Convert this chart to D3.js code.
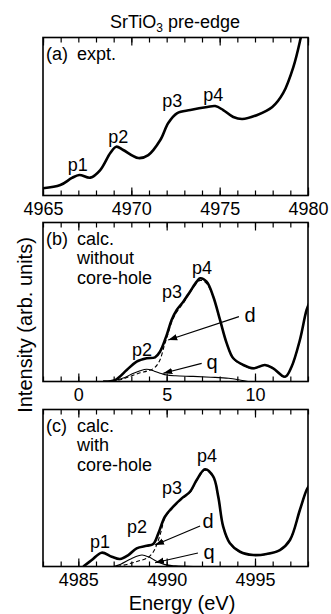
<!DOCTYPE html>
<html><head><meta charset="utf-8">
<script src="https://cdn.jsdelivr.net/npm/d3@7"></script>
<style>
html,body{margin:0;padding:0;background:#fff;}
svg{display:block;font-family:"Liberation Sans",Arial,Helvetica,sans-serif;}
</style></head>
<body>
<script>
// ---------- DATA ----------
const title = "SrTiO";
const yAxisTitle = "Intensity (arb. units)";
const xAxisTitle = "Energy (eV)";

// Panel (a) experiment
const aEnergy = [4965.0,4965.98,4966.64,4967.05,4967.68,4968.24,4968.81,4969.15,4969.54,4970.39,4970.96,4971.64,4972.09,4972.6,4973.34,4974.3,4974.75,4975.2,4975.77,4976.28,4977.13,4977.98,4978.6,4979.17,4979.56,4979.8];
const aExpt   = [4.6,6.6,11.1,13.0,11.3,16.1,26.9,30.9,28.8,23.7,25.6,35.1,45.9,52.2,54.1,56.0,56.6,54.1,49.7,48.4,51.0,56.0,64.9,81.3,98.4,112];
const aMajorTicks = [4965,4970,4975,4980];
const aTickLabels = ["4965","4970","4975","4980"];
const aPeakNames = ["p1","p2","p3","p4"];
const aPeakE = [4966.97,4969.26,4972.32,4974.64];
const aPeakV = [19.3,37.0,59.8,63.6];

// Panel (b) calc. without core-hole
const bEnergy = [1.4,2.07,2.74,3.3,3.87,4.34,4.62,5.0,5.28,5.57,5.94,6.32,6.7,6.89,7.26,7.64,8.02,8.4,8.77,9.34,9.9,10.56,11.03,11.7,12.07,12.54,12.92,13.1];
const bTotal  = [0,0.9,7.2,12.5,14.6,15.2,18.7,29.2,38.7,45.0,50.2,56.5,62.8,64.9,62.8,53.3,38.7,24.0,14.6,10.4,8.3,10.4,8.3,3.0,9.3,26.1,45.0,50];
const bDEnergy = [1.9,2.5,3.0,3.5,3.9,4.3,4.6,4.85,5.05,5.3,5.6,5.95,6.3,6.7,6.9,7.25,7.65,8.02,8.4,8.77,9.34,9.9,10.56,11.03,11.7,12.07,12.54,12.92,13.1];
const bD       = [0,1.5,3.5,5.5,6.6,8.5,13,22,29,37.8,44.2,49.4,55.6,61.8,63.6,61.8,52.8,38.5,23.8,14.4,10.2,8.1,10.2,8.1,2.8,9.1,25.9,44.8,49.8];
const bQEnergy = [1.8,2.5,3.0,3.5,3.87,4.3,4.7,5.0,5.5,6.5,7.5,8.5,9.2,9.6];
const bQ       = [0,2,4.5,6.8,7.7,6.5,5.0,4.1,3.6,3.2,2.7,2.0,0.8,0];
const bMajorTicks = [0,5,10];
const bTickLabels = ["0","5","10"];
const bPeakNames = ["p2","p3","p4"];
const bPeakE = [3.6,5.3,7.0];
const bPeakV = [19.8,56.3,71.4];

// Panel (c) calc. with core-hole
const cEnergy = [4985.28,4985.76,4986.32,4986.89,4987.36,4987.83,4988.3,4988.87,4989.24,4989.53,4989.9,4990.37,4990.85,4991.32,4991.7,4992.17,4992.64,4992.92,4993.2,4993.58,4994.15,4994.9,4995.66,4996.41,4996.98,4997.54,4997.92,4998.1];
const cTotal  = [0,4.1,8.8,6.2,4.8,7.3,11.6,13.2,14.3,21.1,31.7,38.1,43.4,47.6,55.1,61.9,57.2,44.5,25.4,14.8,9.4,7.3,8.0,10.5,16.9,36.0,48.7,52];
const cDEnergy = [4987.2,4987.8,4988.4,4988.9,4989.25,4989.5,4989.7,4989.9,4990.37,4990.85,4991.32,4991.7,4992.17,4992.64,4992.92,4993.2,4993.58,4994.15,4994.9,4995.66,4996.41,4996.98,4997.54,4997.92,4998.1];
const cD       = [0,1.5,3.5,5.4,9.4,15.8,23,31,37.6,42.8,47.2,54.6,61.3,56.8,44.2,25.2,14.6,9.2,7.1,7.8,10.3,16.7,35.8,48.5,51.8];
const cQEnergy = [4987.0,4987.4,4988.0,4988.6,4989.0,4989.4,4989.9,4990.5,4991.5];
const cQ       = [0,1.5,5,7.3,6,3.5,1.2,0.4,0];
const cMajorTicks = [4985,4990,4995];
const cTickLabels = ["4985","4990","4995"];
const cPeakNames = ["p1","p2","p3","p4"];
const cPeakE = [4986.23,4988.32,4990.3,4992.28];
const cPeakV = [15.6,25.2,50.0,70.4];

// annotation arrows: [labelE, labelV, fromE, fromV, toE, toV]
const bArrowNames = ["d","q"];
const bArrows = [[9.72,41.8,9.09,40.8,5.09,26.1],[7.57,12.2,6.98,11.4,4.81,5.2]];
const cArrowNames = ["d","q"];
const cArrows = [[4992.34,29.0,4991.89,25.8,4989.34,13.7],[4992.4,9.2,4991.77,8.6,4989.34,2.4]];

const panelLabels = [["(a)","expt."],["(b)","calc.","without","core-hole"],["(c)","calc.","with","core-hole"]];

// ---------- LAYOUT ----------
const W = 331, H = 614;
const L = 43, R = 308;
const panels = [
  {top:37.5, bottom:195.5, dom:[4965,4980], major:aMajorTicks, labels:aTickLabels,
   lines:[{e:aEnergy,v:aExpt,kind:"thick"}], peaks:[aPeakNames,aPeakE,aPeakV], arrows:null, arrowNames:null},
  {top:222.5, bottom:381.5, dom:[-2,13], major:bMajorTicks, labels:bTickLabels,
   lines:[{e:bQEnergy,v:bQ,kind:"thin"},{e:bDEnergy,v:bD,kind:"dash"},{e:bEnergy,v:bTotal,kind:"thick"}],
   peaks:[bPeakNames,bPeakE,bPeakV], arrows:bArrows, arrowNames:bArrowNames},
  {top:409.5, bottom:566.5, dom:[4983,4998], major:cMajorTicks, labels:cTickLabels,
   lines:[{e:cQEnergy,v:cQ,kind:"thin"},{e:cDEnergy,v:cD,kind:"dash"},{e:cEnergy,v:cTotal,kind:"thick"}],
   peaks:[cPeakNames,cPeakE,cPeakV], arrows:cArrows, arrowNames:cArrowNames}
];

const svg = d3.select("body").append("svg").attr("width",W).attr("height",H);
const defs = svg.append("defs");
defs.append("marker").attr("id","ah").attr("markerUnits","userSpaceOnUse")
  .attr("markerWidth",10).attr("markerHeight",8).attr("refX",9).attr("refY",4)
  .attr("orient","auto")
  .append("path").attr("d","M0,0.8 L9,4 L0,7.2 Z").attr("fill","#000");

// title
const t = svg.append("text").attr("x",175).attr("y",28).attr("text-anchor","middle")
  .attr("font-size",18).attr("fill","#000");
t.append("tspan").text(title);
t.append("tspan").attr("font-size",12).attr("dy",4).text("3");
t.append("tspan").attr("dy",-4).text(" pre-edge");

panels.forEach((p,i)=>{
  const x = d3.scaleLinear().domain(p.dom).range([L,R]);
  const y = d3.scaleLinear().domain([0,100]).range([p.bottom,p.top]);
  const g = svg.append("g");
  const cid = "clip"+i;
  defs.append("clipPath").attr("id",cid).append("rect")
    .attr("x",L).attr("y",p.top).attr("width",R-L).attr("height",p.bottom-p.top);

  const minor = d3.range(p.dom[0],p.dom[1]+0.001,1);
  const axMinorB = d3.axisBottom(x).tickValues(minor).tickSize(-5).tickFormat("");
  const axMajorB = d3.axisBottom(x).tickValues(p.major).tickSize(-8).tickPadding(7)
      .tickFormat((d,k)=>p.labels[k]);
  const axMinorT = d3.axisTop(x).tickValues(minor).tickSize(-5).tickFormat("");
  const axMajorT = d3.axisTop(x).tickValues(p.major).tickSize(-8).tickFormat("");
  [[axMinorB,p.bottom],[axMajorB,p.bottom]].forEach(([ax,yy])=>{
    const a = g.append("g").attr("transform",`translate(0,${yy})`).call(ax);
    a.select(".domain").remove();
    a.selectAll("line").attr("stroke","#000").attr("stroke-width",1.2);
    a.selectAll("text").attr("font-size",18).attr("fill","#000")
      .attr("font-family","'Liberation Sans',Arial,sans-serif");
  });
  [[axMinorT,p.top],[axMajorT,p.top]].forEach(([ax,yy])=>{
    const a = g.append("g").attr("transform",`translate(0,${yy})`).call(ax);
    a.select(".domain").remove();
    a.selectAll("line").attr("stroke","#000").attr("stroke-width",1.2);
  });
  g.append("rect").attr("x",L).attr("y",p.top).attr("width",R-L).attr("height",p.bottom-p.top)
    .attr("fill","none").attr("stroke","#000").attr("stroke-width",1.6);

  const line = d3.line().x(d=>x(d[0])).y(d=>y(d[1])).curve(d3.curveCatmullRom.alpha(0.5));
  const cg = g.append("g").attr("clip-path",`url(#${cid})`);
  p.lines.forEach(ln=>{
    const pts = ln.e.map((e,k)=>[e,ln.v[k]]);
    const path = cg.append("path").attr("d",line(pts)).attr("fill","none").attr("stroke","#000");
    if(ln.kind==="thick") path.attr("stroke-width",2.6).attr("stroke-linejoin","round");
    else if(ln.kind==="thin") path.attr("stroke-width",1.1);
    else path.attr("stroke-width",1.1).attr("stroke-dasharray","4,2.5");
  });

  p.peaks[0].forEach((nm,k)=>{
    g.append("text").attr("x",x(p.peaks[1][k])).attr("y",y(p.peaks[2][k]))
      .attr("text-anchor","middle").attr("dominant-baseline","central")
      .attr("font-size",18).attr("fill","#000").text(nm);
  });

  if(p.arrows){
    p.arrows.forEach((a,k)=>{
      g.append("line").attr("x1",x(a[2])).attr("y1",y(a[3])).attr("x2",x(a[4])).attr("y2",y(a[5]))
        .attr("stroke","#000").attr("stroke-width",1.2).attr("marker-end","url(#ah)");
      g.append("text").attr("x",x(a[0])).attr("y",y(a[1]))
        .attr("text-anchor","middle").attr("dominant-baseline","central")
        .attr("font-size",20).attr("fill","#000").text(p.arrowNames[k]);
    });
  }

  const pl = panelLabels[i];
  const base = p.top + 22;
  g.append("text").attr("x",L+3).attr("y",base).attr("font-size",18).attr("fill","#000").text(pl[0]);
  pl.slice(1).forEach((s,k)=>{
    g.append("text").attr("x",L+34).attr("y",base+k*19.5).attr("font-size",18).attr("fill","#000").text(s);
  });
});

svg.append("text").attr("transform","translate(25,325) rotate(-90)")
  .attr("text-anchor","middle").attr("dominant-baseline","central")
  .attr("font-size",20).attr("fill","#000").text(yAxisTitle);
svg.append("text").attr("x",182).attr("y",610).attr("text-anchor","middle")
  .attr("font-size",20).attr("fill","#000").text(xAxisTitle);
</script>
</body></html>
